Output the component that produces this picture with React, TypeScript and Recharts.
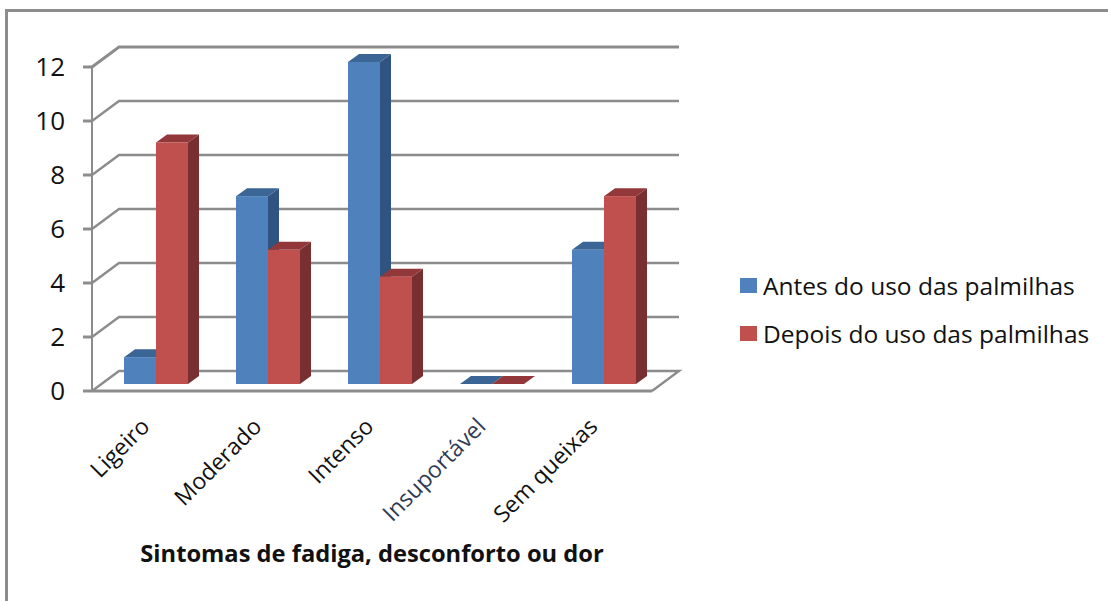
import React from 'react';
import { BarChart, Bar, XAxis, YAxis, CartesianGrid, Legend } from 'recharts';

const CATEGORIES = ['Ligeiro', 'Moderado', 'Intenso', 'Insuportável', 'Sem queixas'];
const ANTES = [1, 7, 12, 0, 5];
const DEPOIS = [9, 5, 4, 0, 7];
const Y_TICKS = [0, 2, 4, 6, 8, 10, 12];

const NAME_ANTES = 'Antes do uso das palmilhas';
const NAME_DEPOIS = 'Depois do uso das palmilhas';
const AXIS_TITLE = 'Sintomas de fadiga, desconforto ou dor';

const FONT = '"Open Sans", sans-serif';
const GREY = '#8c8c8c';

const PLOT_TOP = 67;
const PLOT_BOTTOM = 391;

// wall and floor sit behind the front plane of the axes
const WALL_DX = 27;
const WALL_DY = -20;
// bars stand a little inside the floor, and have a shallow depth
const BAR_DX = 8;
const BAR_DY = -7;
const DEPTH_DX = 11;
const DEPTH_DY = -8;

const data = CATEGORIES.map((name, i) => ({ name, antes: ANTES[i], depois: DEPOIS[i] }));

function bar3d(front: string, top: string, side: string) {
    return function Bar3d(props: any) {
        const { x, y, width, height } = props;
        const h = height * 0.994;
        const left = x + BAR_DX;
        const right = left + width;
        const bottom = y + height + BAR_DY;
        const upper = bottom - h;
        return (
            <g>
                <polygon
                    points={`${right},${upper} ${right + DEPTH_DX},${upper + DEPTH_DY} ${right + DEPTH_DX},${bottom + DEPTH_DY} ${right},${bottom}`}
                    fill={side}
                />
                <polygon
                    points={`${left},${upper} ${left + DEPTH_DX},${upper + DEPTH_DY} ${right + DEPTH_DX},${upper + DEPTH_DY} ${right},${upper}`}
                    fill={top}
                />
                <rect x={left} y={upper} width={width} height={h} fill={front} />
            </g>
        );
    };
}

// side wall stub plus the line along the back wall; the zero line also closes the floor
function WallLine(props: any) {
    const { x1, y1, x2 } = props;
    const onFloor = Math.abs(y1 - PLOT_BOTTOM) < 1;
    const wall = `${x1},${y1} ${x1 + WALL_DX},${y1 + WALL_DY} ${x2 + WALL_DX},${y1 + WALL_DY}`;
    return (
        <polyline
            key={`wall-${y1}`}
            points={onFloor ? `${wall} ${x2},${y1}` : wall}
            fill="none"
            stroke={GREY}
            strokeWidth={y1 === PLOT_TOP ? 3 : 2.4}
        />
    );
}

function CategoryTick(props: any) {
    const { x, payload } = props;
    const tx = x + 3;
    const ty = 428;
    return (
        <text
            x={tx}
            y={ty}
            textAnchor="end"
            transform={`rotate(-45 ${tx} ${ty})`}
            fontFamily={FONT}
            fontSize={23}
            fill={payload.value === 'Insuportável' ? '#2f3a55' : '#111'}
        >
            {payload.value}
        </text>
    );
}

function LegendBox(props: any) {
    return (
        <div style={{ fontFamily: FONT, fontSize: 24.5, color: '#111' }}>
            {props.payload.map((item: any) => (
                <div key={item.value} style={{ display: 'flex', alignItems: 'center', height: 48, whiteSpace: 'nowrap' }}>
                    <span style={{ width: 17, height: 15, background: item.color, marginRight: 6 }} />
                    {item.value}
                </div>
            ))}
        </div>
    );
}

export default function App() {
    return (
        <div style={{ position: 'absolute', left: 0, top: 0, width: 1108, height: 601, overflow: 'hidden', background: '#fff' }}>
            <div
                style={{
                    position: 'absolute',
                    left: 5,
                    top: 9,
                    right: 0,
                    bottom: 0,
                    borderLeft: `3px solid ${GREY}`,
                    borderTop: `3px solid ${GREY}`,
                }}
            />
            <BarChart
                style={{ position: 'absolute', left: 0, top: 0 }}
                width={1108}
                height={601}
                data={data}
                margin={{ top: PLOT_TOP, right: 456, bottom: 0, left: 0 }}
                barSize={32}
                barGap={0}
            >
                <CartesianGrid vertical={false} horizontal={WallLine} />
                <XAxis
                    dataKey="name"
                    height={210}
                    interval={0}
                    tickLine={false}
                    axisLine={{ stroke: GREY, strokeWidth: 3 }}
                    tick={<CategoryTick />}
                    label={{
                        value: AXIS_TITLE,
                        position: 'insideBottom',
                        offset: 39,
                        style: { fontFamily: FONT, fontSize: 23.7, fontWeight: 700, fill: '#111' },
                    }}
                />
                <YAxis
                    width={92}
                    domain={[0, 12]}
                    ticks={Y_TICKS}
                    tickSize={9}
                    tickMargin={18}
                    tickLine={{ stroke: GREY, strokeWidth: 3 }}
                    axisLine={{ stroke: GREY, strokeWidth: 2 }}
                    tick={{ fontFamily: FONT, fontSize: 26, fill: '#111' }}
                />
                <Legend
                    layout="vertical"
                    align="center"
                    verticalAlign="middle"
                    content={<LegendBox />}
                    wrapperStyle={{ left: 740, top: 261, width: 368 }}
                />
                <Bar
                    dataKey="antes"
                    name={NAME_ANTES}
                    fill="#4f81bd"
                    isAnimationActive={false}
                    shape={bar3d('#4f81bd', '#3b6594', '#2f5480')}
                />
                <Bar
                    dataKey="depois"
                    name={NAME_DEPOIS}
                    fill="#c0504d"
                    isAnimationActive={false}
                    shape={bar3d('#c0504d', '#93383a', '#772f2f')}
                />
            </BarChart>
        </div>
    );
}
